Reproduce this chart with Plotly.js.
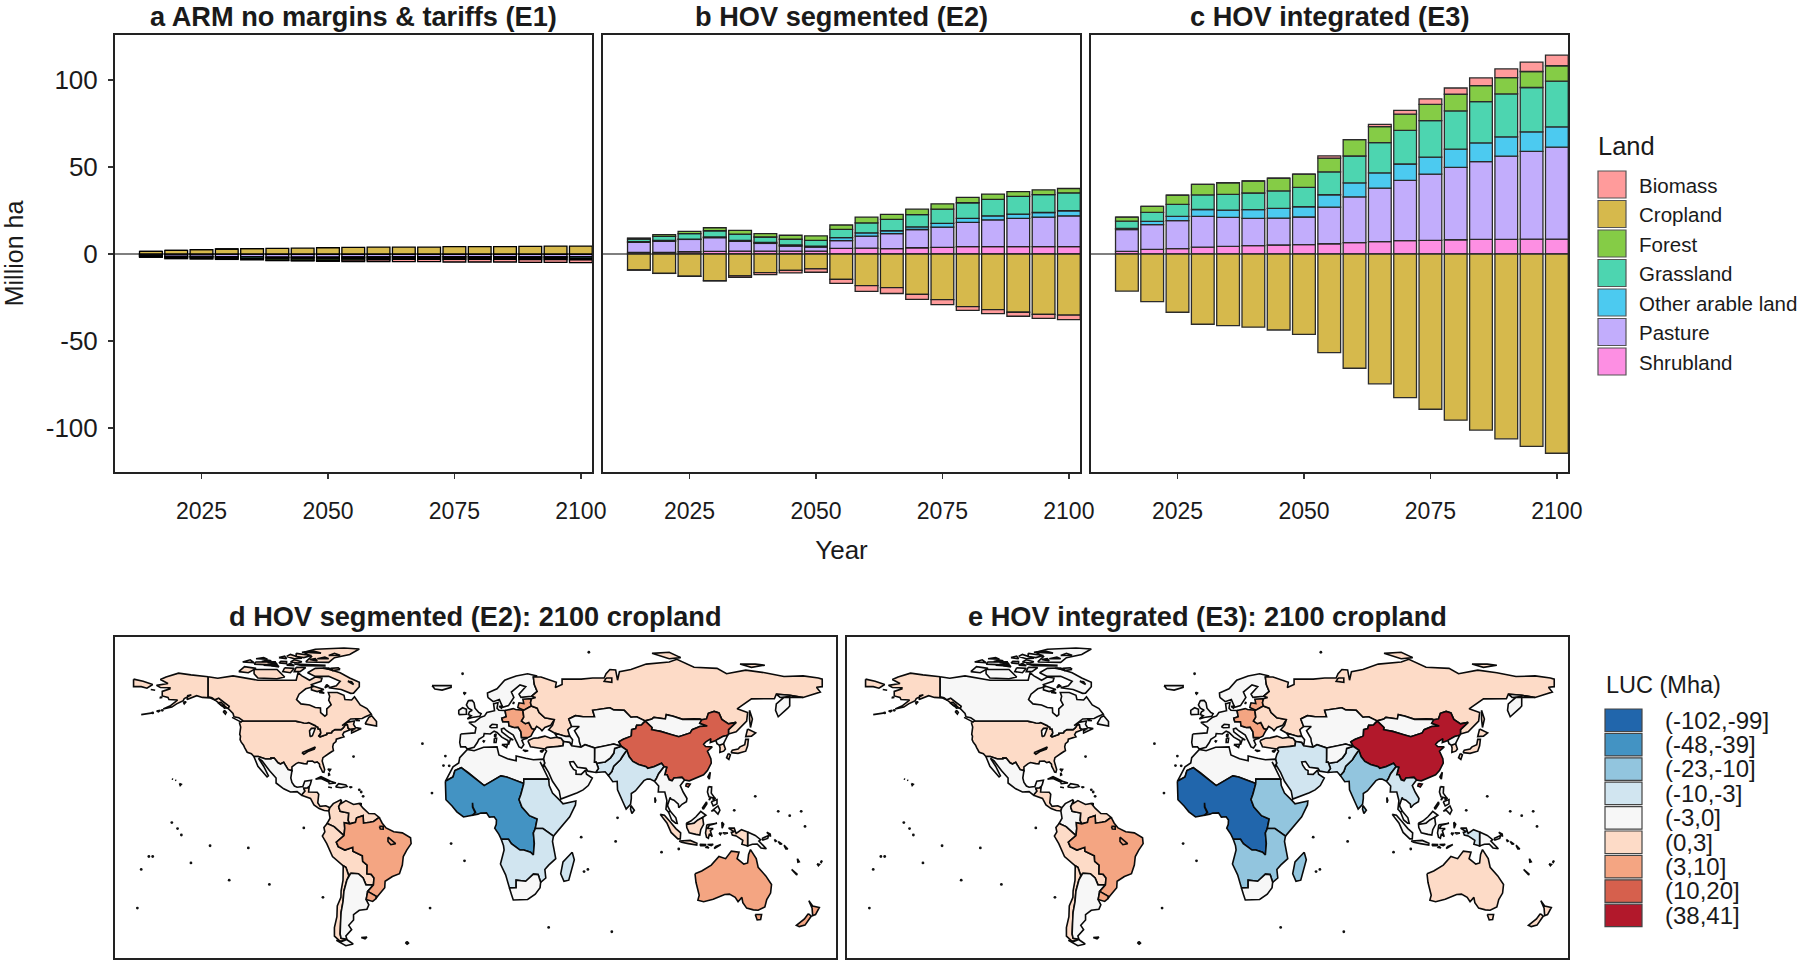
<!DOCTYPE html>
<html><head><meta charset="utf-8">
<script src="https://cdn.plot.ly/plotly-3.0.1.min.js"></script>
<style>html,body{margin:0;padding:0;background:#fff}</style></head>
<body><div id="chart" style="width:1800px;height:960px"></div>
<script>
// ---------- bar data (million ha) ----------
const years=[2015,2020,2025,2030,2035,2040,2045,2050,2055,2060,2065,2070,2075,2080,2085,2090,2095,2100];
const landNames=['Biomass','Cropland','Forest','Grassland','Other arable land','Pasture','Shrubland'];
const landColors=['#FF9B9B','#D6B94C','#85CC46','#4DD5B0','#4CCAF0','#C2ADFC','#FD8FE3'];

const aShrub=[-.1,-.1,-.1,-.1,-.1,-.2,-.2,-.2,-.2,-.2,-.2,-.2,-.2,-.2,-.2,-.2,-.2,-.2];
const aPasture=[-.8,-1.2,-1.3,-1.4,-1.5,-1.6,-1.6,-1.6,-1.5,-1.4,-1.3,-1.3,-1.3,-1.3,-1.3,-1.4,-1.4,-1.4];
const aOther=[-.1,-.2,-.2,-.2,-.2,-.2,-.2,-.2,-.2,-.2,-.2,-.2,-.2,-.2,-.2,-.2,-.2,-.2];
const aGrass=[-.4,-.6,-.6,-.7,-.8,-.8,-.8,-.8,-.8,-.7,-.7,-.7,-.7,-.7,-.7,-.7,-.7,-.8];
const aForest=[-.5,-.6,-.7,-.7,-.8,-.9,-.9,-.9,-.8,-.8,-.7,-.7,-.7,-.7,-.7,-.7,-.7,-.7];
const aCrop=[1.5,2.1,2.5,2.9,3.1,3.3,3.4,3.6,3.8,4,4,4,4.2,4.2,4.2,4.4,4.6,4.6];
const aBiomass=[0,0,0,0,0,-.1,-.3,-.5,-.9,-1.1,-1.3,-1.3,-1.5,-1.5,-1.5,-1.6,-1.6,-1.7];

const bShrub=[1,1,1.3,1.5,1.7,1.7,1.7,1.7,3.3,3.4,3.1,3.6,3.8,4.2,4.2,4.2,4.2,4.2];
const bPasture=[5.7,6.3,7.1,7.9,5.6,4.4,2.9,2.3,4.4,6.9,8.6,10.5,11.7,14,15.5,16.3,17,17.8];
const bOther=[.4,.6,.2,.4,.6,.6,.6,.6,1.7,1.9,1.7,1.5,2.1,2.3,2.3,2.5,2.7,2.9];
const bGrass=[1.5,2.3,3.1,3.6,3.6,3.1,3.3,3.3,4.8,5.7,6.5,7.1,8.2,9,9.4,10.2,10.3,10.3];
const bForest=[.6,1,1.3,1.7,2.1,1.9,2.3,2.5,2.5,3.3,2.9,3.1,3.1,3.1,3.1,2.7,2.7,2.5];
const bCrop=[-9.2,-11.1,-12.8,-15.3,-12.6,-10.7,-9.4,-8.6,-14.6,-18.2,-19.3,-23.2,-26.2,-30.3,-32,-33.5,-34.7,-35.2];
const bBiomass=[-.05,-.05,-.05,-.2,-.8,-1.1,-1.5,-1.9,-2.3,-3.3,-3.4,-2.9,-2.9,-2.1,-2.3,-2.3,-2.3,-2.5];

const cShrub=[1.5,2.7,3.1,4,4.4,4.8,5.2,5.4,5.9,6.5,7.1,7.7,7.9,8.2,8.4,8.4,8.6,8.6];
const cPasture=[12.6,14.2,16.1,17.6,16.7,15.7,15.5,15.9,21.1,26.4,30.8,34.7,38.1,41.6,44.8,47.9,50.4,52.9];
const cOther=[.6,1.9,2.5,4,4.2,5,5.6,5.9,7.1,8,8.8,9.4,9.8,10.5,10.7,11.1,11.3,11.7];
const cGrass=[4.2,5.2,6.9,8.4,9,9.6,10,11.1,13.2,15.5,17.4,19.3,20.9,22,23.8,24.7,25.5,26.3];
const cForest=[2.3,3.4,5.2,6.1,6.7,6.9,7.3,7.7,7.9,9.4,9.2,9.4,9.4,9.6,9.2,9.4,9.2,8.8];
const cCrop=[-21.3,-27.4,-33.5,-40.4,-41.2,-42.1,-43.7,-46.2,-56.7,-65.7,-74.7,-82.6,-89.3,-95.6,-101.3,-106.3,-110.7,-114.6];
const cBiomass=[0,0,0,0,0,0,0,0,1.3,0,1.3,2.1,3.1,3.6,4.4,5,5.4,6.1];

// ---------- map legend ----------
const lucLabels=['(-102,-99]','(-48,-39]','(-23,-10]','(-10,-3]','(-3,0]','(0,3]','(3,10]','(10,20]','(38,41]'];
const lucColors=['#2166AC','#4393C3','#92C5DE','#D1E5F0','#F7F7F7','#FDDBC7','#F4A582','#D6604D','#B2182B'];

// ---------- region outlines, "lon,lat lon,lat ..." one string per ring ----------
const usaRings=[
"-124.7,48.4 -123,49 -95.2,49 -94.6,48.7 -93,48.6 -91,48.1 -89.6,48 -88.4,48.3 -84.9,46.9 -84.5,46.5 -83.6,46.1 -83.5,45.3 -82.5,45.3 -82.1,43.5 -82.5,42.6 -83.1,42.1 -82.5,41.7 -79,42.8 -79,43.3 -76.5,43.6 -76.2,44.2 -74.7,45 -71.5,45 -70.3,45.9 -69.2,47.45 -68.2,47.3 -67.8,45.7 -67,44.9 -70,43.8 -70.7,42.7 -70,41.7 -71.5,41.4 -74,40.6 -74.2,39.5 -75.5,38.5 -75.9,37 -75.5,35.3 -77.9,33.9 -79.2,33.2 -81,32 -81.4,30.4 -80.5,28.3 -80.1,26.5 -80.5,25.2 -81.2,25.3 -81.9,26.7 -82.7,28 -82.8,29 -84,30 -85.3,29.7 -86.5,30.4 -89,30.3 -89.4,29.1 -91,29.2 -93.8,29.7 -95,29.2 -97.2,27.7 -97.2,25.95 -99.2,26.4 -100.5,28.2 -101.5,29.8 -103.2,29 -104.5,29.6 -106.5,31.8 -108.2,31.78 -108.2,31.33 -111,31.33 -114.8,32.5 -117.1,32.5 -118.4,33.8 -120.6,34.5 -122,36.8 -122.5,37.8 -123.8,39.3 -124.3,40.4 -124.1,42 -124.5,42.8 -124,46.2 -124.7,48.4",
"-141,69.6 -141,60.3 -139,59.9 -137.5,58.9 -135.5,59.7 -133.5,58.3 -130,55.9 -130.5,54.8 -133,55.5 -135.5,57.5 -137,58.5 -140,59.8 -144,60 -147,60.8 -149,60 -152,59 -151.7,60.8 -149.8,61.2 -153.5,59.5 -154,58.5 -157.5,57 -160,55.5 -164.5,54.6 -161,56 -158,58 -157,58.8 -161.5,59 -162,60 -165,60.7 -165,62.8 -161,64 -161,64.5 -166,64.6 -168,65.6 -162,66.5 -166,68.3 -163,69.5 -156.5,71.3 -150,70.5 -145,70 -141,69.6",
"-87.7,41.7 -86.5,42.2 -85,45.7 -87,45.6 -88,44.5 -87.8,43",
"-92,34.3 -88,35.7 -85,37 -85.5,36 -88.5,35 -91,33.6",
"-134.5,57.9 -132.5,56.3 -134,56.2 -135.5,57.3","-133,56.5 -131.5,55.3 -132.5,55",
"-160,22.1 -159.3,21.9 -159.6,21.8","-158.2,21.6 -157.7,21.3 -158.1,21.3","-156,20 -155,19.6 -155.6,19",
"-176,52 -172,52.6 -170,52.8 -174,52","-168,53.7 -166,54 -167,53.3","-154,57.8 -152.5,58 -153.5,57",
"-171,63.7 -168.7,63.3 -170.5,63.3","-166,60.3 -165,60 -166,59.8"];
const canadaRings=[
"-141,69.6 -136,68.9 -128,70 -125,69.5 -115,68 -108,68 -100,68 -95,68 -94,71.5 -92,70 -90,69 -88,68 -85,69.5 -81.5,69 -82,67.5 -87,66 -86,65 -90,64 -93.5,61.5 -94.8,59 -92.5,57 -88,56.5 -85,55.3 -82.3,55.1 -82.2,52.9 -80,51.3 -79,52 -79,54.7 -76.7,56.5 -78,58.7 -77.5,60.5 -78.2,62.3 -73.5,62.3 -70,61 -69.5,59 -66,58.8 -64.5,60.3 -61.5,56.5 -58,54.8 -55.7,52.2 -58.8,51 -60.5,50.2 -66.5,50 -71,46.9 -68,48.5 -64.5,49 -65,47.5 -64,46 -61,45.5 -66,43.5 -66,44.5 -64,45.5 -67,45.2 -67.8,45.7 -68.2,47.3 -69.2,47.45 -70.3,45.9 -71.5,45 -74.7,45 -76.2,44.2 -76.5,43.6 -79,43.3 -79,42.8 -82.5,41.7 -83.1,42.1 -82.5,42.6 -82.1,43.5 -82.5,45.3 -83.5,45.3 -83.6,46.1 -84.5,46.5 -84.9,46.9 -88.4,48.3 -89.6,48 -91,48.1 -93,48.6 -94.6,48.7 -95.2,49 -123,49 -123,49.3 -125,50.5 -127.5,51 -128,52.5 -130,54.5 -130.5,54.8 -130,55.9 -133.5,58.3 -135.5,59.7 -137.5,58.9 -139,59.9 -141,60.3 -141,69.6",
"-80,73.7 -72,71.5 -67,69 -62,67 -62,65 -65,62 -66.5,61.9 -71.5,63.7 -78,64.5 -74,65.4 -72,67.5 -78,69.8 -85,69.8 -89,71.5 -85,73.5",
"-117,73 -105,73 -101,69.5 -105,68.7 -115,69 -117,71","-125,72 -122,74.3 -116,73.5 -120,71.5",
"-90,76.5 -78,76.3 -75,78.5 -67,80 -62,82.5 -70,83 -85,82.4 -91,81 -87,79","-96,75.5 -80,75 -80,74.6 -92,74.7",
"-95,80.5 -87,79.5 -91,78.5 -95,79","-117,75.5 -106,75 -106,76.6 -116,76.5","-95,74 -90,73.9 -93,72 -96,72",
"-101,73.8 -96,73.5 -98,71.5 -102,72","-87,65.5 -80.5,63.7 -84,62.7 -87,63.5","-59,47.7 -53,46.7 -53,48.8 -55.5,51.5 -57,50.7",
"-128.5,50.7 -123.5,48.4 -125,48.7","-123,76.5 -117,76.2 -119,77.5 -122,77","-104,76 -100,75.7 -100,76.7 -103,76.8",
"-100,79 -96,78 -92,78.2 -98,80","-116,78 -110,77.8 -112,78.5","-81,73.6 -76,72.8 -78,73.7","-82,62.9 -80.3,62 -83,62.3",
"-79,66 -78,65.3 -80,64.5","-64,50 -61.7,49.2 -63.5,49.3","-132.5,54 -131.5,53 -132,52.2 -133,53.3",
"-98,76.5 -94,76 -92,76.6 -96,77.5","-110,76.2 -105,75.6 -106,76.3","-100,75 -96,74.8 -98,75.8",
"-108,74.7 -104,74.2 -105,75.2","-92,81 -82,80.6 -86,81.6","-78,79.5 -72,79.6 -75,80.5","-84,78 -78,78 -80,78.8","-88,77.6 -84,77 -85,78","-113,76.7 -108,77 -110,77.4","-72,73 -76,72.5 -77,73.5 -73,73.8","-68,67.5 -65,66 -66,67.3","-112,75 -106,74.6 -108,75.3","-104,78.5 -100,78 -101,79.2"];
const mexicoRings=["-117.1,32.5 -114.8,32.5 -111,31.33 -108.2,31.33 -108.2,31.78 -106.5,31.8 -104.5,29.6 -103.2,29 -101.5,29.8 -100.5,28.2 -99.2,26.4 -97.2,25.95 -97.8,22.5 -97.2,20.5 -95.9,18.8 -94.5,18.2 -91.5,18.6 -90.5,21 -87,21.5 -87.6,19.5 -88.2,18.5 -89.1,17.9 -91,17.8 -90.4,16.4 -92.2,14.5 -94.5,16.2 -98,16 -101.5,17.5 -105.5,20.2 -105.5,22.5 -109,26 -112.8,30.5 -114.7,31.7 -112,28 -109.5,23.5 -110.2,23 -112,25 -115,28"];
const centralAmRings=["-92.2,14.5 -90.4,16.4 -91,17.8 -89.1,17.9 -88.2,18.5 -88.5,16 -84,15.9 -83.2,15 -83.7,11 -82.5,9.3 -79.5,9.6 -77.4,8.7 -77.9,7.2 -80.3,7.4 -83,8.3 -85.7,10 -87.5,13"];
const caribbeanRings=["-84.9,21.9 -82,23.1 -77,21 -74.2,20.2 -77.7,19.9 -78,20.7 -82,22.3","-74.4,18.4 -72.8,19.9 -69,19.3 -68.4,18.6 -71.5,18","-78.3,18.3 -76.3,18 -77,17.8","-67.2,18.4 -65.7,18.3 -66.5,18","-78.5,26.7 -77,26.5 -77.5,25.8","-78,25 -77.5,24 -78,23.8","-61.7,10.7 -61,10.6 -61,10.1 -61.8,10.1"];
const colombiaRings=["-77.4,8.7 -75.6,10.6 -71.7,12.4 -71.3,11.8 -72.8,9.1 -72,7 -67.5,6.2 -67.8,2.8 -67,1.2 -69.8,1.7 -69.6,-1 -70,-4.3 -75.2,-0.1 -78.8,1.4 -77.3,3.8 -77.9,7.2"];
const venezuelaRings=["-71.3,11.8 -71.7,10.5 -69,12 -65,10.2 -62,10.7 -60,8.5 -57,6 -54,5.9 -51.6,4.2 -54.5,2.3 -56.5,1.9 -59.8,1.5 -60,5 -63.4,4 -64,1.9 -67,1.2 -67.8,2.8 -67.5,6.2 -72,7 -72.8,9.1"];
const andeanRings=["-75.2,-0.1 -70,-4.3 -74,-7.3 -73,-9.4 -69.5,-11 -65.4,-9.7 -65.3,-11.5 -60.4,-13.7 -60.2,-16.3 -57.9,-18 -58,-22 -55.8,-22.3 -54.3,-24 -54.6,-25.5 -54.6,-27.2 -58.5,-27.2 -60,-24 -62.5,-22 -66.5,-21.8 -67.5,-23 -69,-19 -70.4,-18.3 -76,-14 -79,-8 -81.3,-4.5 -80,-2.5 -80.5,-0.5 -78.8,1.4"];
const chileRings=["-69,-19 -70.4,-18.3 -70.5,-25 -71.5,-30 -71.6,-33 -73.5,-37 -73.7,-42 -75,-47 -75,-51 -72,-53.5 -68.5,-52.5 -71.5,-52 -72,-50 -71.8,-45 -71.5,-40 -70.5,-35 -70,-30 -68.5,-25 -67.5,-23"];
const argentinaRings=["-66.5,-21.8 -62.5,-22 -60,-24 -58.5,-27.2 -54.6,-27.2 -57.6,-30.2 -58.4,-34 -57,-36.5 -58,-38.5 -62,-39 -65,-41 -65,-43.5 -67.5,-46 -66,-48 -69,-51 -68.5,-52.5 -71.5,-52 -72,-50 -71.8,-45 -71.5,-40 -70.5,-35 -70,-30 -68.5,-25 -67.5,-23","-68.6,-52.6 -65.2,-54.7 -69,-55.5 -74,-53 -71,-53.5","-61,-51.7 -58,-51.5 -59,-52.3","-38,-54 -36,-54.2 -37,-54.8"];
const brazilRings=["-51.6,4.2 -50,1.5 -48,-0.7 -44,-2.5 -39.5,-3 -35.2,-5.3 -34.9,-8 -37.2,-11 -39,-14 -39.5,-18 -41,-22 -44.7,-23.3 -48.5,-25.5 -48.7,-28.5 -52.2,-32.3 -53.4,-33.7 -53.1,-32.5 -57.6,-30.2 -54.6,-27.2 -54.6,-25.5 -54.3,-24 -55.8,-22.3 -58,-22 -57.9,-18 -60.2,-16.3 -60.4,-13.7 -65.3,-11.5 -65.4,-9.7 -69.5,-11 -73,-9.4 -74,-7.3 -70,-4.3 -69.6,-1 -69.8,1.7 -67,1.2 -64,1.9 -63.4,4 -60,5 -59.8,1.5 -56.5,1.9 -54.5,2.3","-47,-5 -45,-6.5 -43,-8 -45.5,-8.5 -47,-7","-51.5,0 -49.5,0 -49.5,-1.3 -51,-1.2"];
const uruguayRings=["-57.6,-30.2 -53.1,-32.5 -53.4,-33.7 -55,-34.9 -58.4,-34"];
const westEuropeRings=[
"-9,43 -1.5,43.5 -1,46 -4.7,48.4 -1.5,48.7 1.5,50.8 3.5,51.4 4.7,53 8.7,53.8 8.2,57 10.5,57.6 10,55 11,54 14.2,53.9 14.8,51 12.5,50.3 13,48.7 16,48.7 16.3,46.8 19,46 21,46.2 22.5,44 22.8,41.3 26,41 24,40.5 23,40 24,38 22.8,36.5 21.5,37 20,39.7 19.4,41.5 18.5,42.5 15,44.5 14,45.2 13.6,45.7 12.3,45.3 12.5,44 16,41.5 18.5,40.2 17,40.5 16.5,39.5 16,38 15.7,40 12.5,41.5 10,43.7 8.5,44.3 6.5,43 3.3,43.2 3,41.9 0.5,40.5 -0.3,39 -2,36.8 -5.5,36 -6.5,37 -9,37 -9.5,39",
"5.2,60 5,62 10,64 14,68 20,70 26,71 31,70 29,69.5 29.5,66 31,62.8 28,60.5 22.5,60 21.5,61.5 25,65 22,65.8 17.5,62.5 18.8,60 16.7,57.5 16,56.2 13,55.4 11.2,59 8,58",
"-5,58.5 -3,58.6 -2,57.5 -1.5,55 0.5,53 1.7,52.5 1,51.2 -3,50.7 -5.5,50 -3.5,51.5 -5,52 -4.4,53.3 -3,54 -5,55 -6,56.5","-10,52 -6,52.2 -6,54.5 -8,55.2 -10,54",
"-24,65.5 -14,65.5 -14,64.7 -18.7,63.4 -22.5,63.9","6,46.3 7.5,47.5 10,47.3 10,46 7,45.9","8.6,41 9.8,41 9.5,39 8.5,39","8.8,43 9.5,42.8 9.3,41.5 8.7,42",
"12.5,38.1 15.5,38.2 15,36.7","23.5,35.5 26.3,35.2 24.7,34.9","32.4,35 34.5,35.6 33.5,34.6","2.5,39.9 3.4,39.7 3.1,39.3","-7.5,62.3 -6.5,62 -7,61.5","11,55.8 12.5,56 12.3,55","18.2,57.5 19,57.8 18.6,57"];
const eastEURings=["14.2,53.9 18.5,54.8 19.7,54.4 23.5,54 24,50.8 22.8,49 24.8,47.8 26.6,48.3 28.2,45.5 29.7,45.2 28.6,43.5 27.7,42 26.5,41.5 22.8,41.3 22.5,44 21,46.2 19,46 16.3,46.8 16,48.7 13,48.7 12.5,50.3 14.8,51","21,56 21.5,57.5 24,57.2 23.5,59.2 28,59.4 27.5,57.5 28,56 26.5,55.3 24,54 20.9,55.3"];
const ukraineRings=["23.5,54 24,54 26.5,55.3 28,56 31,55 32,53 35,50.5 40,49.7 38,47 35,46 33.5,44.5 32.5,45.5 30.7,46.5 29.7,45.2 28.2,45.5 26.6,48.3 24.8,47.8 22.8,49 24,50.8"];
const russiaRings=[
"28,59.4 30.2,60 28,60.5 31,62.8 29.5,66 29,69.5 33,69.5 41,67 40.5,64.6 44,66 44,68.5 54,68.5 60,69 66,69 67,71 69,73 72,72.8 73,68 74,72 80,73 88,75.5 100,76.5 104,77.7 113,74 125,73.5 130,71 140,72.7 150,71.5 160,69.7 170,70 178,69 180,68.5 180,65 177,64.7 179,62.5 170,60 163,61 156,61.5 155,59.4 143,59.3 135.5,54.7 141,53 140.5,49 135,44 131,43 131,45 135,48.4 131,47.7 127.5,49.8 126,52.8 123.5,53.5 120.5,52.6 119.5,50 117,49.6 116,49.9 113,50 107,49.8 102,51.3 98.5,52 98,50 92,50.7 91,50 87.5,49 87.3,49.1 83,51 80,50.8 76.5,54 71,54.2 69,55.2 65,54.8 60,54 61,51 55,51 51,51.5 47.5,50 49,46.5 47,45 48,42 46,41.8 40,43.5 37,45 39,47 40,49.7 35,50.5 32,53 31,55 28,56 27.5,57.5",
"-180,68.5 -175,67.5 -170,66 -173,64.3 -176,65 -180,65","142,54 143.5,50 142.5,46 142,50",
"91,80.5 100,81 106,78.5 100,78","137,75.5 145,75.5 150,75 143,74","67,69 70,69 70,67 66,67.5"];
const turkeyRings=["26.3,40 29,41 31.5,41.2 35,42 38,41 41.5,41.5 43.5,41 44.8,39.5 44.5,37.5 42,37.2 36,36.7 35,36 30.5,36.4 27.5,37 26.3,39.5"];
const caucasusRings=["40,43.5 46,41.8 48,42 49.5,40.3 49,37.5 48,39 44.8,39.5 43.5,41 41.5,41.5"];
const kamchatkaRings=["170,60 163,61 156,61.5 158,60 163,60.5 163,56 162,55 157,51 155.6,54 156,57 160,60"];
const centralAsiaRings=["47.5,50 51,51.5 55,51 61,51 60,54 65,54.8 69,55.2 71,54.2 76.5,54 80,50.8 83,51 87.3,49.1 85.5,47.2 83,47 82.5,45.5 80.4,45 80.2,42 76,40.5 73.7,39.4 74.9,37.3 71,38.3 66.5,37.4 64.5,37.2 61,36.5 56,38 53.9,36.9 53,39.5 52.8,41 50.5,44.5 53,46.5 49,46.5"];
const mongoliaRings=["87.5,49 91,50 92,50.7 98,50 98.5,52 102,51.3 107,49.8 113,50 116,49.9 117,49.6 116,48 119.9,46.7 116,46.5 112,45 111,43.5 105,41.7 101,42.6 95.5,44.2 90.8,45 91,46"];
const chinaRings=["80.2,42 80.4,45 82.5,45.5 83,47 85.5,47.2 87.5,49 91,46 90.8,45 95.5,44.2 101,42.6 105,41.7 111,43.5 112,45 116,46.5 119.9,46.7 116,48 117,49.6 119.5,50 120.5,52.6 123.5,53.5 126,52.8 127.5,49.8 131,47.7 135,48.4 131,45 131,43 130.6,42.4 128,41.8 124.4,40 121.5,39 121.8,40.8 119,39.2 118,38.2 119,37.2 122.5,37 120,35 121.8,31.5 122,29.5 120,26 118,24 114,22.3 110.5,21.2 108,21.6 106.7,22.8 102.5,22.5 101.5,21.2 100,21.7 98.9,24 97.7,24 98.7,27.5 97.3,27.8 96,29.4 92,27.8 88.8,27 88,27.8 84,28.8 81,30.2 79,32.5 77.8,35.5 74.9,37.3 73.7,39.4 76,40.5","121.5,25.3 121,22 120.2,23","109,20 111,19.7 110,18.3 108.7,18.8"];
const japanKoreaRings=["126.2,37.8 128.4,38.5 129.4,36 128.5,35 126.5,34.4 126.6,36.5","130.9,33.9 132,33.3 131.2,31.2 130,32","132.3,34.3 136,34 140,35 141,37.5 141.4,40.5 140,40.5 139.5,38 137,37 136,36 133,35.5","141,45.3 145.2,43.5 143,42 140,41.8"];
const northKoreaRings=["124.4,40 128,41.8 130.6,42.4 128.4,38.5 126.2,37.8 125,38.5"];
const southAsiaRings=["77.8,35.5 79,32.5 81,30.2 84,28.8 88,27.8 88.8,27 92,27.8 96,29.4 97.3,27.8 94.5,24.5 93.2,22 92.3,21 90,22 88.5,22 86.8,21.3 82.3,16.5 80.2,15.3 80.2,13 79.8,10.3 77.5,8.1 76,11 73,17 72.8,21 70.5,20.8 68.9,22.8 68.2,23.7 70,25.5 71,28 74.5,31 75.5,32.5","80,9.7 81.8,7.5 80.5,6 79.8,8","92.5,13.5 93,12.2 92.6,11"];
const pakistanRings=["60.9,29.9 62,29.4 66.5,30 69.3,31.9 71,34 71.5,36.3 74.9,37.3 77.8,35.5 75.5,32.5 74.5,31 71,28 70,25.5 68.2,23.7 66.5,25.4 61.6,25.1 63,27 61.8,30"];
const afghanRings=["61,36.5 64.5,37.2 66.5,37.4 71,38.3 74.9,37.3 71.5,36.3 71,34 69.3,31.9 66.5,30 62,29.4 60.9,29.9 61,31.5"];
const seaMainlandRings=["92.3,21 93.2,22 94.5,24.5 97.3,27.8 98.7,27.5 97.7,24 98.9,24 100,21.7 101.5,21.2 102.5,22.5 106.7,22.8 108,21.6 105.8,19 107.3,16 109.3,13 109,11.5 106.7,10.3 105,8.7 104.8,10.4 102.5,12.2 100.9,12.7 100.5,13.5 99.2,10 99.3,9.3 100.5,7.2 99.7,6.6 98.3,8 98.8,12 97.7,16 95.3,15.8 94.3,16 94.5,18.8"];
const maritimeRings=["100.5,7.2 103.5,4 104.2,1.4 103.4,1.5 101.3,3 100.3,6 99.7,6.6","109,1.5 111.3,2.5 114,4.5 116.5,7 119.2,5.2 117.5,4.2 115,3 113,1.5 110,1","120.5,18.5 122.2,18.3 122,15.5 124,13 120.8,13.8 120,16","122,7 125.5,9.5 126.5,7.5 125.5,5.7 123.5,7.5","122,11.5 125,12.5 125,10.5 123,9.5","117.2,8.4 119.5,11.4 119.7,10.5 118,8.2","123,13.5 124,13 123,12.2","120.8,13 121.5,13 121,12.2","141,-2.6 145,-4.2 147.8,-6.2 146.9,-6.8 150.8,-10.4 148,-10 146,-8.2 143.5,-8.3 141,-9.1","148.5,-5.6 152,-4.2 151.5,-5.6 149,-6.3","151,-2.7 153,-4.7 152.8,-3.5","155,-6 156,-6.8 155.5,-7","157,-7 159,-8.2 158,-8.3","160,-8.7 162,-10.5 161,-10.5","164,-20 167,-22.3 166.5,-22.4","167,-15 168,-16.5 167.3,-16.7","177.3,-17.4 178.6,-17.7 178,-18.3","179,-16.4 180,-16 179.5,-16.8"];
const indonesiaRings=["95.3,5.6 97.5,5.2 100.5,2.2 103.5,-1 106,-3 105.8,-5.8 104.5,-5.8 101,-2.8 98.8,1.6","105.2,-6.8 108.5,-6.5 111,-6.5 114.5,-7.8 114.4,-8.7 110,-8 106.5,-7.4","116,-8.3 119,-8.4 119,-9 116.5,-9","120,-8.4 123,-8.3 122,-8.9","109,1.5 110,1 113,1.5 115,3 117.5,4.2 118,1 116.5,-1.5 116,-4 114,-3.7 110.5,-3 109.2,-0.5","119.7,0.8 125,1.5 121,0.5 120,-1 123,-1 121.5,-2 122.5,-4.8 121,-3.5 120.5,-5.5 119.5,-5 119,-3","127.5,2 128.5,1 127.7,-0.8","126,-3.1 127.2,-3.2 126.8,-3.8","128,-3 130.7,-3.1 129,-3.5","124,-9.5 127,-8.4 123.6,-10.3","119.7,-9.3 120.8,-10 119.3,-9.8"];
const papuaRings=["131,-0.8 134,-0.8 135,-3.3 137.8,-1.5 141,-2.6 141,-9.1 138,-8.3 138.5,-6.5 135,-4.4 133,-4 132.5,-2.8 134,-2.5"];
const middleEastRings=["35,36 36,36.7 42,37.2 44.5,37.5 44.8,39.5 48,39 49,37.5 53.9,36.9 56,38 61,36.5 61,31.5 60.9,29.9 61.8,30 63,27 61.6,25.1 57.5,25.7 56.5,27 52,27.5 50,30.2 48,30 48.5,28.5 50,26.5 51.3,26 51.3,24.3 54,24.2 56.3,26.2 56.8,24.3 59.8,22.5 57.7,19 55,17 52,15.7 45,13 43.3,12.7 42.5,16.5 39,21 37,25 35,28 34.5,27.9 34.9,29.5 34.3,31.3 35,33.5 35.9,35"];
const northAfricaRings=["-17,21 -13,23 -12,26 -8.7,27.3 -5,25 3.3,19 12,23.5 15,23 24,20 24,22 25,22 37,22 34,27.5 32.5,30 34,27.8 34.9,29.5 34.3,31.3 32.3,31.2 29,31 25,31.7 20,32.8 20,30.5 15.5,31.5 11,33.2 10,37 3,36.8 -2,35.2 -5.5,35.8 -9.5,32 -10,29.5 -13,27.7"];
const westAfricaRings=["-17,21 -17,14.7 -16.7,12.4 -13.5,9.5 -11,6.8 -7.5,4.4 -3,5 0,5.7 1.5,6.2 4.5,6.3 6,4.3 8.5,4.5 9.7,3 9.6,1 8.8,-0.8 11,-3.7 12.2,-6 16,-6 17.5,-8 22,-11 24,-11 27.5,-12 29,-13.3 29.5,-8 29,-3 30,-1 31,3.5 27,5 23,9 21.5,12.5 22.5,15 24,20 15,23 12,23.5 3.3,19 -5,25 -8.7,27.3 -12,26 -13,23","-3,5 -1.5,6.5 -2.8,9 -2.8,11 -2.6,11 -2.6,9 -1.2,6.5 -2.8,5.1"];
const eastAfricaRings=["24,20 24,22 25,22 37,22 37.3,19 39,15.5 43,12 44.5,10.5 51.2,11.8 51,10 48,4.5 42,-1.5 39.5,-4.5 34,-1 30,-1 31,3.5 27,5 23,9 21.5,12.5 22.5,15"];
const southernAfricaRings=["12.2,-6 16,-6 17.5,-8 22,-11 24,-11 27.5,-12 29,-13.3 29.5,-8 29,-3 30,-1 34,-1 39.5,-4.5 39,-7 39.7,-10.5 40.7,-15 37,-18 35,-20 35.5,-24 32.8,-26 31.5,-22.4 29,-22.2 26,-24.7 25,-25.5 20,-25 20,-28.5 16.5,-28.6 14.5,-22.5 11.8,-17.5 13.7,-11 13.4,-9","49.3,-12 50.4,-15.5 47.5,-25 45,-25.5 43.3,-22 44.5,-16.5"];
const southAfricaRings=["16.5,-28.6 20,-28.5 20,-25 25,-25.5 26,-24.7 29,-22.2 31.5,-22.4 32.8,-26 32.5,-28.5 30,-31.5 26,-34 22,-34.2 18.5,-34.2 17.5,-31.5"];
const oceaniaRings=["113.5,-22 114,-26 115.7,-32 115,-34.3 118,-35 123,-33.9 129,-31.7 131.5,-31.5 134.5,-33 136,-35 138,-33 138.5,-35.5 140.5,-38 144,-38.8 146.5,-39 150,-37.5 151,-34 153,-31 153.5,-27 150.5,-23 146.5,-19 145.5,-15 142.5,-10.8 141.5,-13 141,-17 139,-17.5 135.5,-15 136.5,-12 132.5,-11.5 129.5,-15 126,-14 122,-18 117,-20.7","145,-41 148.3,-41 147.8,-43.3 146,-43.5","172.7,-40.6 174.3,-41.7 171,-45.9 168,-46.6 166.5,-46 170.7,-43","173,-34.5 175,-37 178.5,-37.7 176.5,-41 175,-41.5 174.7,-38"];

const regionRings=[usaRings,canadaRings,mexicoRings,centralAmRings,caribbeanRings,colombiaRings,venezuelaRings,andeanRings,chileRings,argentinaRings,brazilRings,uruguayRings,westEuropeRings,eastEURings,ukraineRings,russiaRings,turkeyRings,caucasusRings,kamchatkaRings,centralAsiaRings,mongoliaRings,chinaRings,japanKoreaRings,northKoreaRings,southAsiaRings,pakistanRings,afghanRings,seaMainlandRings,maritimeRings,indonesiaRings,papuaRings,middleEastRings,northAfricaRings,westAfricaRings,eastAfricaRings,southernAfricaRings,southAfricaRings,oceaniaRings];
// class of each region (index into lucLabels) in panel d and panel e
const classD=[5,5,4,5,4,5,5,5,5,4,6,6,4,6,5,5,5,4,4,4,4,7,5,4,3,3,4,4,4,5,5,4,4,1,3,3,4,6];
const classE=[5,4,4,5,4,4,5,5,5,4,6,6,4,6,5,5,5,4,4,4,4,8,5,4,2,3,4,3,4,4,3,3,4,0,2,2,4,5];
// tiny islands (lon, lat)
const isleLon=[-65,-8,-7,-29,-17,-18,-15,-24,-91,-160,-157,-150,-140,-172,-155,-120,-130,-176,-109,-81,-37,-7,-14,70,37,54,72,55.5,57.5,96,105,157,169,171,134,145,163,73,-170,-178,-25,-170,-165,-60,-61,-62,58];
const isleLat=[32.5,71,62,38.5,32.7,28.3,28.2,15.5,-0.7,1.8,-1,-17,-9,-14,-4,-10,-25,-20,-27,-33,-54,-16,-8,-49,-47,-5,-7,-21,-20,-12,-10.5,7,7,0,7.5,14,5,4,-14,-38,-38,52.8,54,14,16,17,81];

// ---------- layout constants ----------
const W=1800,H=960;
const fx=p=>p/W, fy=p=>1-p/H;
const FONT='"Liberation Sans",Arial,sans-serif', INK='#1a1a1a';
const barPanels=[
  {x:'x',y:'y',edge:'#000000',series:[aShrub,aPasture,aOther,aGrass,aForest,aCrop,aBiomass]},
  {x:'x2',y:'y2',edge:'#222222',series:[bShrub,bPasture,bOther,bGrass,bForest,bCrop,bBiomass]},
  {x:'x3',y:'y3',edge:'#2b2b2b',series:[cShrub,cPasture,cOther,cGrass,cForest,cCrop,cBiomass]}];
const stackOrder=[6,5,4,3,2,1,0]; // index into landNames, nearest to zero first
const traces=[];
barPanels.forEach(p=>{
  p.series.forEach((vals,i)=>{
    const k=stackOrder[i];
    traces.push({type:'bar',name:landNames[k],x:years,y:vals,width:4.5,xaxis:p.x,yaxis:p.y,showlegend:false,
      marker:{color:landColors[k],line:{color:p.edge,width:1.3}},hoverinfo:'x+y+name'});
  });
});
function ringsToXY(rings){
  const x=[],y=[];
  rings.forEach(r=>{
    const pts=r.trim().split(/\s+/).map(s=>s.split(',').map(Number));
    pts.forEach(q=>{x.push(q[0]);y.push(q[1]);});
    x.push(pts[0][0]);y.push(pts[0][1]);
    x.push(null);y.push(null);
  });
  return {x,y};
}
[['x4','y4',classD],['x5','y5',classE]].forEach(([xa,ya,cls])=>{
  regionRings.forEach((rings,i)=>{
    const xy=ringsToXY(rings);
    traces.push({type:'scatter',mode:'lines',x:xy.x,y:xy.y,xaxis:xa,yaxis:ya,fill:'toself',
      fillcolor:lucColors[cls[i]],line:{color:'#0a0a0a',width:1.6},showlegend:false,hoverinfo:'skip',connectgaps:false});
  });
  traces.push({type:'scatter',mode:'markers',x:isleLon,y:isleLat,xaxis:xa,yaxis:ya,showlegend:false,hoverinfo:'skip',
    marker:{color:'#111',size:2.8}});
});

const boxAxis={showgrid:false,zeroline:false,showline:true,mirror:true,linecolor:'#222',linewidth:2,
  tickfont:{family:FONT,size:23,color:INK},tickcolor:'#333'};
const yearTicks=[2025,2050,2075,2100];
const yTicks=[-100,-50,0,50,100], yLabels=['-100','-50','0','50','100'];
const xA=(a,b,extra)=>Object.assign({},boxAxis,{domain:[fx(a),fx(b)],range:[2007.9,2102.2],tickmode:'array',tickvals:yearTicks,ticks:'outside',ticklen:5,tickwidth:1.5,ticklabelstandoff:12},extra||{});
const yBase=Object.assign({},boxAxis,{domain:[fy(472),fy(35)],range:[-125.4,126]});
const mapX=(a,b)=>Object.assign({},boxAxis,{domain:[fx(a),fx(b)],range:[-189.7,187.2],showticklabels:false,ticks:''});
const mapY=anchor=>Object.assign({},boxAxis,{domain:[fy(958),fy(637)],range:[-61.2,88.1],showticklabels:false,ticks:'',anchor});

const ann=(text,x,y,size,opts)=>Object.assign({text,x:fx(x),y:fy(y),xref:'paper',yref:'paper',showarrow:false,xanchor:'center',yanchor:'middle',
  font:{family:FONT,size,color:INK}},opts||{});
const annotations=[
  ann('<b>a ARM no margins &amp; tariffs (E1)</b>',353.5,16,27.2),
  ann('<b>b HOV segmented (E2)</b>',841.5,16,27.2),
  ann('<b>c HOV integrated (E3)</b>',1329.5,16,27.2),
  ann('<b>d HOV segmented (E2): 2100 cropland</b>',475,616,27.2),
  ann('<b>e HOV integrated (E3): 2100 cropland</b>',1207,616,27.2),
  ann('Land',1596,146,25.5,{xanchor:'left'}),
  ann('LUC (Mha)',1604,685,23.5,{xanchor:'left'})];
const shapes=[0,1,2].map(i=>({type:'line',xref:['x','x2','x3'][i]+' domain',yref:['y','y2','y3'][i],x0:0,x1:1,y0:0,y1:0,layer:'below',line:{color:'#555',width:1.5}}));
landNames.forEach((n,i)=>{
  const top=171+i*29.5;
  shapes.push({type:'rect',xref:'paper',yref:'paper',x0:fx(1598),x1:fx(1626),y0:fy(top+27),y1:fy(top),fillcolor:landColors[i],line:{color:'#555',width:1.2}});
  annotations.push(ann(n,1637,top+14,20.5,{xanchor:'left'}));
});
lucLabels.forEach((n,i)=>{
  const top=709+i*24.4;
  shapes.push({type:'rect',xref:'paper',yref:'paper',x0:fx(1605),x1:fx(1642),y0:fy(top+22.5),y1:fy(top),fillcolor:lucColors[i],line:{color:'#444',width:1.2}});
  annotations.push(ann(n,1663,top+11,24,{xanchor:'left'}));
});

const layout={width:W,height:H,margin:{l:0,r:0,t:0,b:0},paper_bgcolor:'#fff',plot_bgcolor:'#fff',barmode:'relative',showlegend:false,font:{family:FONT,color:INK},
  xaxis:xA(115,592),
  xaxis2:xA(603,1080,{title:{text:'Year',font:{family:FONT,size:26,color:INK},standoff:18}}),
  xaxis3:xA(1091,1568),
  yaxis:Object.assign({},yBase,{tickmode:'array',tickvals:yTicks,ticktext:yLabels,ticks:'outside',ticklen:5,tickwidth:1.5,ticklabelstandoff:5,tickfont:{family:FONT,size:26,color:INK},
    title:{text:'Million ha',font:{family:FONT,size:25,color:INK},standoff:20}}),
  yaxis2:Object.assign({},yBase,{anchor:'x2',showticklabels:false,ticks:''}),
  yaxis3:Object.assign({},yBase,{anchor:'x3',showticklabels:false,ticks:''}),
  xaxis4:Object.assign(mapX(115,836),{anchor:'y4'}),yaxis4:mapY('x4'),
  xaxis5:Object.assign(mapX(847,1568),{anchor:'y5'}),yaxis5:mapY('x5'),
  annotations,shapes};
Plotly.newPlot('chart',traces,layout,{displayModeBar:false,staticPlot:true});
</script></body></html>
